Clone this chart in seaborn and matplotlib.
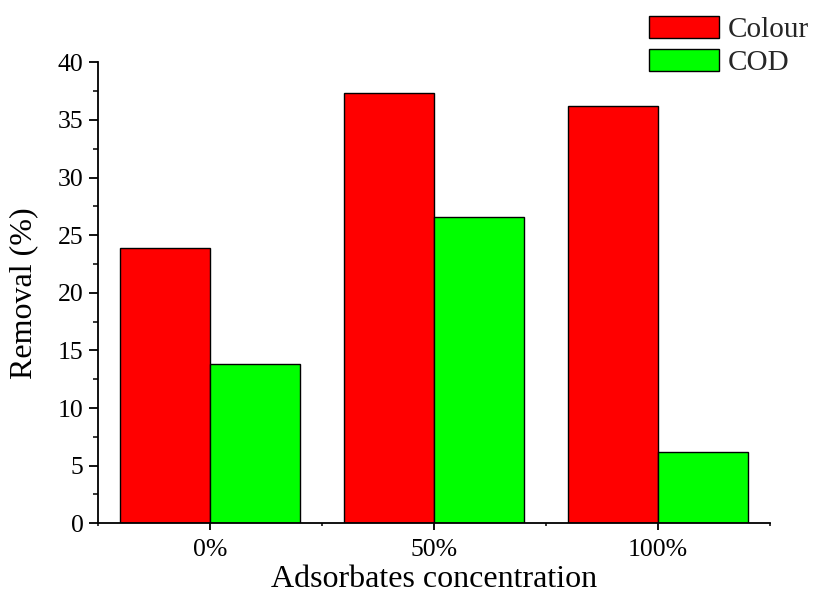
import matplotlib
matplotlib.use("Agg")
import matplotlib.pyplot as plt
from matplotlib.ticker import MultipleLocator, FixedLocator
import seaborn as sns
import pandas as pd

# Removal efficiency (%) per adsorbate concentration
concentrations = ["0%", "50%", "100%"]
colour_removal = [23.9, 37.3, 36.2]
cod_removal = [13.8, 26.6, 6.2]
series_names = ["Colour", "COD"]
series_colors = ["#ff0000", "#00ff00"]

df = pd.DataFrame({
    "Concentration": concentrations * 2,
    "Removal": colour_removal + cod_removal,
    "Parameter": [series_names[0]] * 3 + [series_names[1]] * 3,
})

sns.set_theme(style="ticks")
plt.rcParams["font.family"] = ["Liberation Serif", "DejaVu Serif"]

fig = plt.figure(figsize=(8.18, 5.98), dpi=100)
ax = fig.add_axes([0.1198, 0.1249, 0.9413 - 0.1198, 0.8958 - 0.1249])

sns.barplot(
    data=df, x="Concentration", y="Removal", hue="Parameter",
    order=concentrations, hue_order=series_names,
    palette=series_colors, saturation=1, width=0.8,
    edgecolor="black", linewidth=1.0, ax=ax,
)

ax.set_xlim(-0.5, 2.5)
ax.set_ylim(0, 40)
ax.yaxis.set_major_locator(MultipleLocator(5))
ax.yaxis.set_minor_locator(MultipleLocator(2.5))
ax.xaxis.set_minor_locator(FixedLocator([-0.5, 0.5, 1.5, 2.5]))

for side in ["top", "right"]:
    ax.spines[side].set_visible(False)
for side in ["left", "bottom"]:
    ax.spines[side].set_linewidth(1.3)
    ax.spines[side].set_color("black")

ax.tick_params(axis="y", which="major", direction="out", length=6.5, width=1.3,
               labelsize=18.5, colors="black", pad=4)
ax.tick_params(axis="y", which="minor", direction="out", length=3.5, width=1.3)
ax.tick_params(axis="x", which="major", direction="out", length=5, width=1.3,
               labelsize=18.5, colors="black", pad=6)
ax.tick_params(axis="x", which="minor", direction="out", length=2.5, width=1.3)

ax.set_xlabel("Adsorbates concentration", fontsize=23, labelpad=3, color="black")
ax.set_ylabel("Removal (%)", fontsize=23, labelpad=14, color="black")

handles, labels = ax.get_legend_handles_labels()
ax.get_legend().remove()
fig.legend(
    handles, labels, loc="upper left",
    bbox_to_anchor=(649 / 818, 1 - 16 / 598),
    frameon=False, fontsize=21, borderpad=0, borderaxespad=0,
    handlelength=2.4, handleheight=0.8, handletextpad=0.3, labelspacing=0.2,
)

fig.savefig("out.png", dpi=100)
